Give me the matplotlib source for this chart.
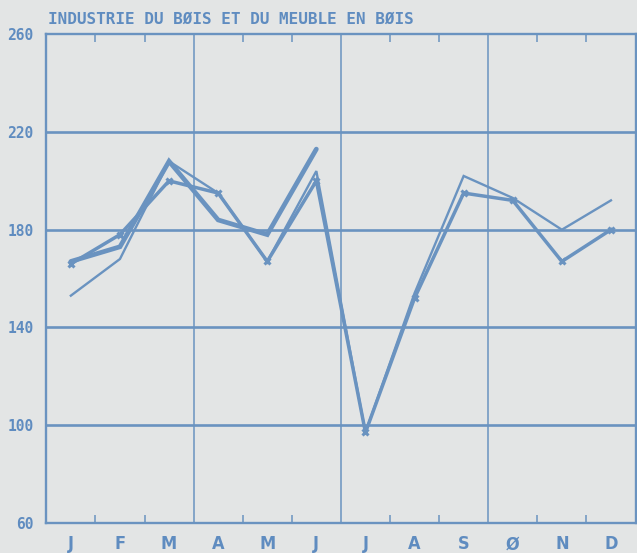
import matplotlib
matplotlib.use("Agg")
import matplotlib.pyplot as plt
import numpy as np

# Monthly index values
months = ["J", "F", "M", "A", "M", "J", "J", "A", "S", "Ø", "N", "D"]
y_ticks = [60, 100, 140, 180, 220, 260]

# Current year (available through June)
current = [167, 173, 208, 184, 178, 213]
# Previous year (with cross markers)
previous = [166, 178, 200, 195, 167, 200, 97, 152, 195, 192, 167, 180]
# Year before
older = [153, 168, 208, 195, 167, 204, 97, 154, 202, 193, 180, 192]

title = "INDUSTRIE DU BØIS ET DU MEUBLE EN BØIS"

BG = "#e3e5e5"
BLUE = "#6a93c0"
TXT = "#5f8cc0"

fig = plt.figure(figsize=(6.37, 5.53), dpi=100, facecolor=BG)
ax = fig.add_axes([46.3 / 637, 30.2 / 553, (635.5 - 46.3) / 637, (522.8 - 34.3) / 553])
ax.set_facecolor(BG)

x_all = np.arange(len(months)) + 0.5

# Grid: horizontal value lines and quarter separators
for v in y_ticks[1:-1]:
    ax.axhline(v, color=BLUE, lw=1.9, zorder=1)
for q in (3, 6, 9):
    ax.axvline(q, color=BLUE, lw=1.1, zorder=1)

ax.plot(x_all, older, color=BLUE, lw=1.7, zorder=3, solid_joinstyle="miter")
ax.plot(x_all, previous, color=BLUE, lw=2.5, marker="x", ms=5, mew=2.2,
        zorder=4, solid_joinstyle="miter")
ax.plot(x_all[:len(current)], current, color=BLUE, lw=3.4, zorder=5,
        solid_joinstyle="miter", solid_capstyle="round")

ax.set_xlim(0, 12)
ax.set_ylim(60, 260)

for s in ax.spines.values():
    s.set_color(BLUE)
    s.set_linewidth(1.7)

# Month boundary ticks on top and bottom
ax.set_xticks([1, 2, 4, 5, 7, 8, 10, 11])
ax.set_xticks(x_all, minor=True)
ax.set_xticklabels([])
ax.set_xticklabels(months, minor=True)
ax.tick_params(axis="x", which="major", direction="in", length=6, width=1.1,
               color=BLUE, top=True, bottom=True)
ax.tick_params(axis="x", which="minor", length=0, pad=9, labelcolor=TXT,
               labelsize=13)
for lab in ax.get_xticklabels(minor=True):
    lab.set_fontfamily("DejaVu Sans")
    lab.set_fontstretch("condensed")
    lab.set_fontweight("bold")

ax.set_yticks(y_ticks)
ax.set_yticklabels([str(v) for v in y_ticks])
ax.tick_params(axis="y", length=0, pad=9, labelcolor=TXT, labelsize=10.5)
for lab in ax.get_yticklabels():
    lab.set_fontfamily("DejaVu Sans Mono")
    lab.set_fontweight("bold")

fig.text(48 / 637, 1 - 24 / 553, title, color=TXT, fontsize=11.5,
         family="DejaVu Sans Mono", fontweight="bold", va="baseline", ha="left")

fig.savefig("out.png", dpi=100, facecolor=BG)
